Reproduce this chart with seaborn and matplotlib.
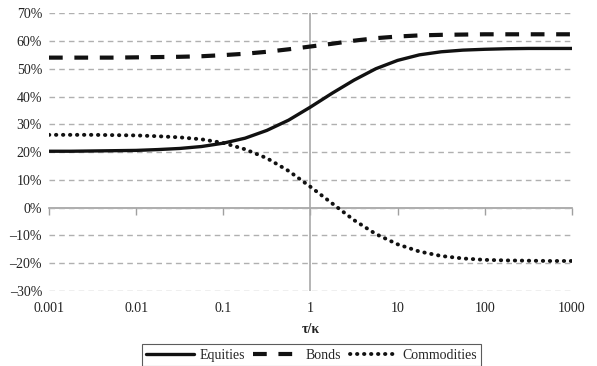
import numpy as np
import pandas as pd
import seaborn as sns
import matplotlib.pyplot as plt
from matplotlib.ticker import FuncFormatter

# tau/kappa on a log grid, quarter-decade steps
log_ratio = [-3.0, -2.75, -2.5, -2.25, -2.0, -1.75, -1.5, -1.25, -1.0, -0.75, -0.5, -0.25,
             0.0, 0.25, 0.5, 0.75, 1.0, 1.25, 1.5, 1.75, 2.0, 2.25, 2.5, 2.75, 3.0]
equities = [20.3, 20.3, 20.4, 20.5, 20.6, 20.9, 21.3, 22.0, 23.2, 25.0, 27.8, 31.5,
            36.2, 41.2, 45.9, 50.0, 53.0, 55.0, 56.1, 56.7, 57.0, 57.2, 57.3, 57.3, 57.3]
bonds = [54.0, 54.0, 54.0, 54.0, 54.1, 54.2, 54.3, 54.5, 54.9, 55.4, 56.1, 57.0,
         58.0, 59.0, 60.1, 61.0, 61.6, 62.0, 62.2, 62.3, 62.4, 62.4, 62.4, 62.4, 62.4]
commodities = [26.2, 26.2, 26.2, 26.1, 26.0, 25.7, 25.3, 24.6, 23.3, 21.0, 17.8, 13.2,
               7.5, 1.5, -4.5, -9.5, -13.2, -15.8, -17.4, -18.3, -18.8, -19.0, -19.1, -19.2, -19.2]
decades = [0.001, 0.01, 0.1, 1, 10, 100, 1000]
decade_labels = ['0.001', '0.01', '0.1', '1', '10', '100', '1000']

df = pd.DataFrame({'ratio': np.power(10.0, log_ratio),
                   'Equities': equities, 'Bonds': bonds, 'Commodities': commodities})

sns.set_style('white')
plt.rcParams['font.family'] = ['Liberation Serif', 'DejaVu Serif']

fig = plt.figure(figsize=(5.97, 3.66), dpi=100)
ax = fig.add_axes([0.082, 0.205, 0.876, 0.759])

grid_col = '#b0b0b0'
ax.set_xscale('log')
ax.set_xlim(0.001, 1000)
ax.set_ylim(-30, 70)
ax.set_yticks(range(-30, 71, 10))
ax.grid(axis='y', color=grid_col, linestyle=(0, (4, 3)), linewidth=1.0)
ax.grid(axis='x', visible=False)
for s in ax.spines.values():
    s.set_visible(False)

# axis lines crossing at tau/kappa = 1 and at 0%
ax.axvline(1, color='#a8a8a8', linewidth=1.2, zorder=1)
sec = ax.secondary_xaxis(0.3)
sec.set_xticks(decades)
sec.set_xticklabels([])
sec.tick_params(axis='x', which='major', direction='out', length=5, color='#a0a0a0', width=1)
sec.tick_params(axis='x', which='minor', length=0)
sec.spines['bottom'].set_color('#a0a0a0')
sec.spines['bottom'].set_linewidth(1.2)

sns.lineplot(data=df, x='ratio', y='Equities', ax=ax, color='#111111', linewidth=2.4,
             label='Equities')
sns.lineplot(data=df, x='ratio', y='Bonds', ax=ax, color='#111111', linewidth=3.0,
             linestyle=(0, (3.3, 2.8)), label='Bonds')
sns.lineplot(data=df, x='ratio', y='Commodities', ax=ax, color='#111111', linewidth=2.8,
             linestyle=(0, (0.1, 1.7)), dash_capstyle='round', label='Commodities')

ax.set_xticks(decades)
ax.set_xticklabels(decade_labels)
ax.minorticks_off()
ax.tick_params(axis='both', length=0, labelsize=10, labelcolor='#222222')
ax.tick_params(axis='x', pad=8)
ax.tick_params(axis='y', pad=5)
ax.yaxis.set_major_formatter(FuncFormatter(lambda v, p: f'{int(v)}%'.replace('-', '\u2013')))
ax.set_xlabel('\u03c4/\u03ba', fontsize=10, fontweight='bold', color='#222222', labelpad=6)
ax.set_ylabel('')

handles, labels = ax.get_legend_handles_labels()
ax.get_legend().remove()
leg = fig.legend(handles, labels, loc='center', bbox_to_anchor=(0.522, 0.03), ncol=3,
                 fontsize=10, frameon=True, fancybox=False, handlelength=3.4,
                 columnspacing=0.6, handletextpad=0.4, borderpad=0.3)
leg.get_frame().set_edgecolor('#333333')
leg.get_frame().set_linewidth(0.8)

fig.savefig('out.png', dpi=100)
